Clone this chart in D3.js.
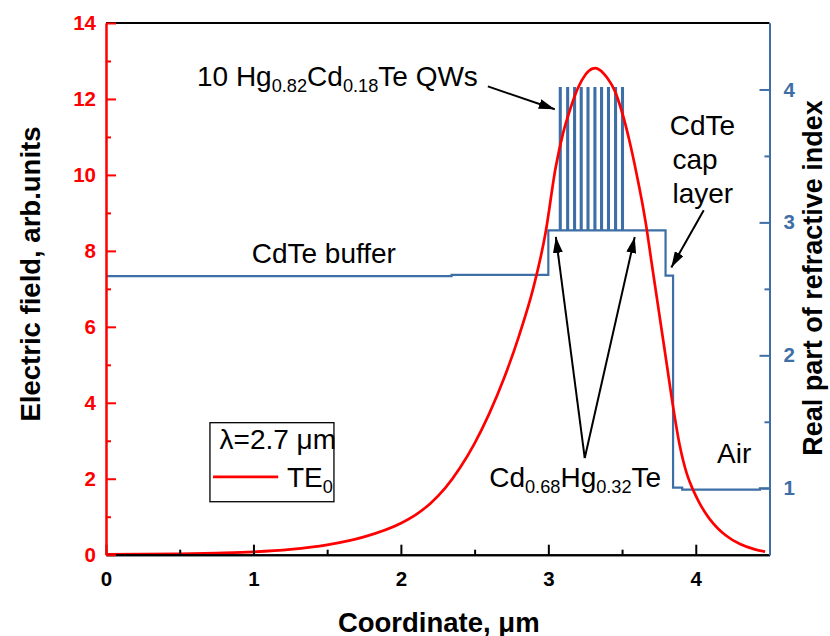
<!DOCTYPE html>
<html><head><meta charset="utf-8">
<script src="https://cdn.jsdelivr.net/npm/d3@7"></script>
<style>
body{margin:0;background:#fff}
svg{display:block}
text{font-family:"Liberation Sans",Arial,Helvetica,sans-serif}
</style>
</head><body>
<svg id="chart" width="830" height="636"></svg>
<script>
// ---- data ----
const fieldX = [0, 0.25, 0.5, 0.75, 1.0, 1.25, 1.5, 1.75, 2.0, 2.1, 2.2, 2.3, 2.4, 2.5, 2.6, 2.7, 2.8, 2.9, 2.98, 3.05, 3.1, 3.15, 3.2, 3.25, 3.3, 3.32, 3.35, 3.4, 3.45, 3.5, 3.55, 3.6, 3.64, 3.66, 3.7, 3.75, 3.8, 3.846, 3.89, 3.94, 3.98, 4.02, 4.06, 4.1, 4.15, 4.2, 4.3, 4.4, 4.47];
const fieldE = [0.01, 0.015, 0.025, 0.045, 0.075, 0.14, 0.26, 0.47, 0.83, 1.05, 1.35, 1.75, 2.28, 2.93, 3.72, 4.65, 5.75, 7.05, 8.45, 10.2, 11.1, 11.75, 12.28, 12.63, 12.8, 12.81, 12.76, 12.55, 12.22, 11.65, 10.9, 10.0, 9.2, 8.75, 7.7, 6.4, 5.1, 3.9, 2.9, 2.12, 1.72, 1.40, 1.13, 0.91, 0.69, 0.52, 0.28, 0.14, 0.08];

// refractive index layers (start coordinate, index)
const layerStartX = [0, 2.344, 3.0, 3.795, 3.846, 3.908, 4.435, 4.5];
const layerN      = [2.595, 2.605, 2.94, 2.60, 1.005, 0.99, 1.0, 1.0];
// quantum wells
const qwX = [3.078, 3.128, 3.175, 3.22, 3.266, 3.313, 3.358, 3.405, 3.453, 3.50];
const qwWidth = 0.006;
const qwN = 4.01;

const xTicks = [0, 1, 2, 3, 4];
const xMinor = [0.5, 1.5, 2.5, 3.5];
const leftTicks = [0, 2, 4, 6, 8, 10, 12, 14];
const leftMinor = [1, 3, 5, 7, 9, 11, 13];
const rightTicks = [1, 2, 3, 4];
const rightMinor = [1.5, 2.5, 3.5];

// ---- setup ----
const RED = "#ff0000", BLUE = "#3d6fa6";
const svg = d3.select("#chart");
const L = 106, R = 769.5, T = 23, B = 554.7;
const x = d3.scaleLinear().domain([0, 4.5]).range([L, R]);
const yL = d3.scaleLinear().domain([0, 14]).range([B, T]);
const yR = d3.scaleLinear().domain([0.5, 4.5]).range([B, T]);

// ---- index profile ----
const steps = layerStartX.map((v, i) => ({x: v, n: layerN[i]}));
const cladN = layerN[2];
qwX.forEach(q => { steps.push({x: q, n: qwN}); steps.push({x: q + qwWidth, n: cladN}); });
steps.sort((a, b) => a.x - b.x);
svg.append("path").datum(steps)
  .attr("d", d3.line().x(d => x(d.x)).y(d => yR(d.n)).curve(d3.curveStepAfter))
  .attr("fill", "none").attr("stroke", BLUE).attr("stroke-width", 2.2);

// ---- field curve ----
const field = fieldX.map((v, i) => ({x: v, e: fieldE[i]}));
svg.append("path").datum(field)
  .attr("d", d3.line().x(d => x(d.x)).y(d => yL(d.e)).curve(d3.curveMonotoneX))
  .attr("fill", "none").attr("stroke", RED).attr("stroke-width", 2.7);

// ---- axes ----
function styleAxis(g, color, fs) {
  g.selectAll("path.domain").attr("stroke", color).attr("stroke-width", 2);
  g.selectAll(".tick line").attr("stroke", color).attr("stroke-width", 2);
  g.selectAll(".tick text").attr("fill", color).attr("font-size", fs).attr("font-weight", "bold")
    .attr("font-family", '"Liberation Sans",Arial,sans-serif');
}
// top frame
svg.append("line").attr("x1", L).attr("x2", R).attr("y1", T).attr("y2", T)
  .attr("stroke", "#000").attr("stroke-width", 2);

const gx = svg.append("g").attr("transform", `translate(0,${B})`)
  .call(d3.axisBottom(x).tickValues(xTicks).tickSizeInner(-10).tickSizeOuter(0).tickPadding(17).tickFormat(d3.format("d")));
styleAxis(gx, "#000", 20.5);
const gxm = svg.append("g").attr("transform", `translate(0,${B})`)
  .call(d3.axisBottom(x).tickValues(xMinor).tickSizeInner(-5).tickSizeOuter(0).tickFormat(""));
styleAxis(gxm, "#000", 20);

const gl = svg.append("g").attr("transform", `translate(${L},0)`)
  .call(d3.axisLeft(yL).tickValues(leftTicks).tickSizeInner(-10).tickSizeOuter(0).tickPadding(10).tickFormat(d3.format("d")));
styleAxis(gl, RED, 20.5);
const glm = svg.append("g").attr("transform", `translate(${L},0)`)
  .call(d3.axisLeft(yL).tickValues(leftMinor).tickSizeInner(-5).tickSizeOuter(0).tickFormat(""));
styleAxis(glm, RED, 20);

const gr = svg.append("g").attr("transform", `translate(${R},0)`)
  .call(d3.axisRight(yR).tickValues(rightTicks).tickSizeInner(-10).tickSizeOuter(0).tickPadding(14).tickFormat(d3.format("d")));
styleAxis(gr, BLUE, 20.5);
const grm = svg.append("g").attr("transform", `translate(${R},0)`)
  .call(d3.axisRight(yR).tickValues(rightMinor).tickSizeInner(-5).tickSizeOuter(0).tickFormat(""));
styleAxis(grm, BLUE, 20);

// axis titles
svg.append("text").attr("x", (L + R) / 2 + 1).attr("y", 631.5).attr("text-anchor", "middle")
  .attr("font-size", 27.5).attr("font-weight", "bold").text("Coordinate, μm");
svg.append("text").attr("transform", "translate(39.5,274) rotate(-90)").attr("text-anchor", "middle")
  .attr("font-size", 27.5).attr("font-weight", "bold").text("Electric field, arb.units");
svg.append("text").attr("transform", "translate(821.5,278) rotate(-90)").attr("text-anchor", "middle")
  .attr("font-size", 27).attr("font-weight", "bold").text("Real part of refractive index");

// ---- annotations (positioned in data units) ----
const defs = svg.append("defs");
defs.append("marker").attr("id", "ah").attr("markerUnits", "userSpaceOnUse")
  .attr("viewBox", "0 0 16 10").attr("refX", 16).attr("refY", 5)
  .attr("markerWidth", 16).attr("markerHeight", 10).attr("orient", "auto")
  .append("path").attr("d", "M0,0 L16,5 L0,10 Z").attr("fill", "#000");

function arrow(x1, y1, x2, y2) {
  svg.append("line").attr("x1", x(x1)).attr("y1", yL(y1)).attr("x2", x(x2)).attr("y2", yL(y2))
    .attr("stroke", "#000").attr("stroke-width", 2).attr("marker-end", "url(#ah)");
}
function richText(px, py, parts, fs, anchor) {
  const t = svg.append("text").attr("x", x(px)).attr("y", yL(py)).attr("font-size", fs)
    .attr("text-anchor", anchor || "start").attr("fill", "#000");
  let sub = false;
  parts.forEach(p => {
    const isSub = p.startsWith("_");
    const s = t.append("tspan").text(isSub ? p.slice(1) : p);
    if (isSub && !sub) { s.attr("font-size", fs * 0.65).attr("dy", 6); sub = true; }
    else if (isSub) { s.attr("font-size", fs * 0.65); }
    else if (sub) { s.attr("dy", -6); sub = false; }
  });
  return t;
}

const FS = 28;
richText(0.617, 12.35, ["10 Hg", "_0.82", "Cd", "_0.18", "Te QWs"], FS);
arrow(2.59, 12.33, 3.044, 11.73);

richText(0.988, 7.67, ["CdTe buffer"], FS);

richText(2.599, 1.78, ["Cd", "_0.68", "Hg", "_0.32", "Te"], FS);
arrow(3.247, 2.546, 3.051, 8.366);
arrow(3.247, 2.546, 3.586, 8.366);

richText(4.144, 2.42, ["Air"], FS);

richText(3.824, 11.05, ["CdTe"], FS);
richText(3.842, 10.15, ["cap"], FS);
richText(3.842, 9.26, ["layer"], FS);
arrow(4.054, 9.07, 3.834, 7.56);

// ---- legend ----
const lg = svg.append("g");
lg.append("rect").attr("x", x(0.705)).attr("y", yL(3.476))
  .attr("width", x(1.546) - x(0.705)).attr("height", yL(1.395) - yL(3.476))
  .attr("fill", "#fff").attr("stroke", "#000").attr("stroke-width", 1.3);
richText(0.77, 2.78, ["λ=2.7 μm"], FS);
lg.append("line").attr("x1", x(0.726)).attr("x2", x(1.168)).attr("y1", yL(2.05)).attr("y2", yL(2.05))
  .attr("stroke", RED).attr("stroke-width", 2.7);
richText(1.227, 1.79, ["TE", "_0"], FS);
</script>
</body></html>
